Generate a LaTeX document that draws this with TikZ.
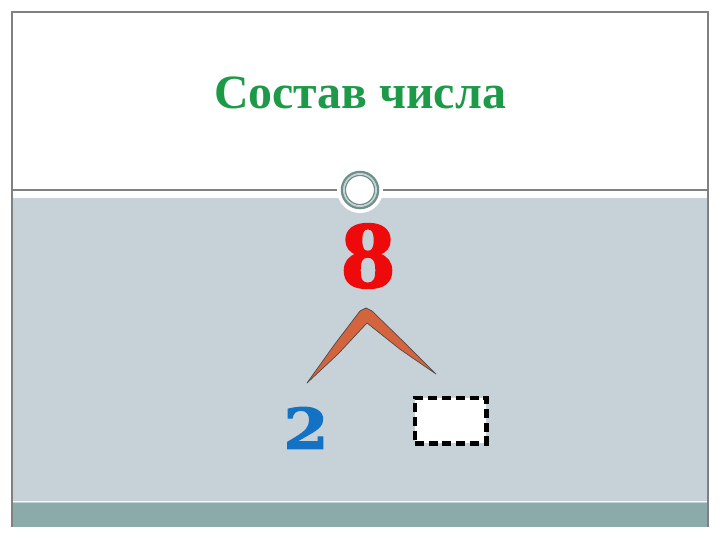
\documentclass[tikz,border=0pt]{standalone}
\usepackage{graphicx}
\usepackage{fontspec}
\setmainfont{Liberation Serif}
\newfontfamily\eightfont[FakeBold=2]{Liberation Serif Bold}
\newfontfamily\digitfont[FakeBold=2]{DejaVu Serif Bold}
\usepackage{xcolor}
\definecolor{titlegreen}{HTML}{1C9A48}
\definecolor{numred}{HTML}{EE0A0A}
\definecolor{numblue}{HTML}{1472C4}
\definecolor{panelgray}{HTML}{C6D1D8}
\definecolor{bandteal}{HTML}{8BABAB}
\definecolor{ringgray}{HTML}{6E8F8C}
\definecolor{armbrown}{HTML}{D4643E}

\begin{document}
\begin{tikzpicture}[x=0.025cm,y=-0.025cm,
		label/.style={inner sep=0pt, font=\bfseries},
		blankbox/.style={draw=black, fill=white, line width=3.4pt, dash pattern=on 6.4pt off 3.4pt, minimum width=1.78cm, minimum height=1.13cm, inner sep=0pt}]
		\useasboundingbox (0,0) rectangle (720,540);
		\fill[white] (0,0) rectangle (720,540);
		\fill[panelgray] (12,198) rectangle (708,503);
		\fill[bandteal] (12,503) rectangle (708,527);
		\draw[white!80!panelgray, line width=0.6pt] (12,501) -- (708,501);
		\draw[gray, line width=1pt] (12,190) -- (708,190);
		\draw[gray, line width=1pt] (12,527) -- (12,12) -- (708,12) -- (708,527);
		\node[circle, fill=white, minimum size=1.15cm, inner sep=0pt] (ring) at (360,190) {};
		\draw[ringgray, line width=1.8pt] (ring.center) circle (18);
		\draw[ringgray!40, line width=1pt] (ring.center) circle (16.2);
		\draw[ringgray, line width=0.9pt] (ring.center) circle (14.6);
		\node[label, text=titlegreen, font=\bfseries\fontsize{34}{40}\selectfont] (title) at (360,93) {Состав числа};
		\node[label, text=numred, font=\eightfont\fontsize{68}{80}\selectfont] (eight) at (368,256) {\scalebox{1.12}[1]{8}};
		\node[label, text=numblue, font=\digitfont\fontsize{40}{50}\selectfont] (two) at (306,428) {\scalebox{1.15}[1]{2}};
		\node[blankbox] (blank) at (450.5,420.5) {};
		\coordinate (apex) at (366,308);
		\coordinate (lefttip) at (307,383);
		\coordinate (righttip) at (436,374);
		\filldraw[fill=armbrown, draw=black!70, line width=0.5pt, line join=round]
			(lefttip) -- (334.5,344.5) -- (360,311) -- (apex) -- (372,311) -- (402.3,340.5) -- (righttip)
			-- (400.5,349.6) -- (367,323) -- (338,354) -- cycle;
	\end{tikzpicture}
\end{document}
